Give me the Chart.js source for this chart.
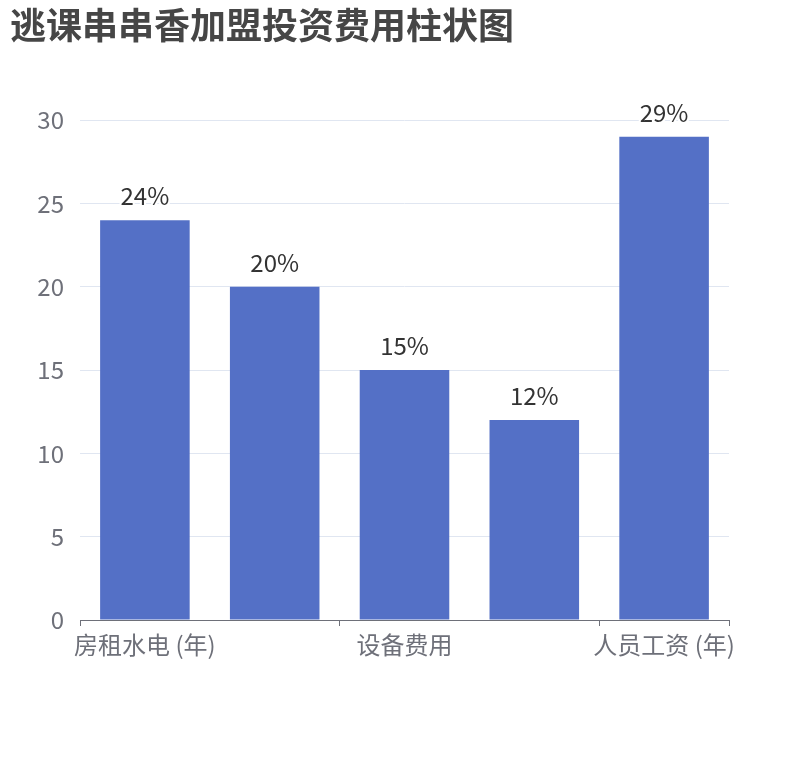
<!DOCTYPE html>
<html>
<head>
<meta charset="utf-8">
<script src="https://cdn.jsdelivr.net/npm/chart.js@4/dist/chart.umd.min.js"></script>
<style>
  html, body { margin: 0; padding: 0; background: #fff; }
  #wrap { width: 810px; height: 760px; position: relative; }
</style>
</head>
<body>
<div id="wrap"><canvas id="chart"></canvas></div>
<script>
// data
const categories = ['房租水电 (年)', '加盟费用', '设备费用', '店面装修', '人员工资 (年)'];
const costs = [24, 20, 15, 12, 29];
const shares = ['24%', '20%', '15%', '12%', '29%'];
const yTicks = [0, 5, 10, 15, 20, 25, 30];

const FONT = '"Noto Sans CJK SC", "Noto Sans", sans-serif';

// percent labels above each bar, white outline like the original
const barLabels = {
  id: 'barLabels',
  afterDatasetsDraw(chart) {
    const ctx = chart.ctx;
    const meta = chart.getDatasetMeta(0);
    ctx.save();
    ctx.font = '24px ' + FONT;
    ctx.textAlign = 'center';
    ctx.textBaseline = 'bottom';
    ctx.lineJoin = 'round';
    meta.data.forEach((bar, i) => {
      ctx.lineWidth = 4;
      ctx.strokeStyle = '#fff';
      ctx.strokeText(shares[i], bar.x, bar.y - 12);
      ctx.fillStyle = '#333';
      ctx.fillText(shares[i], bar.x, bar.y - 12);
    });
    ctx.restore();
  }
};

new Chart(document.getElementById('chart'), {
  type: 'bar',
  data: {
    labels: categories,
    datasets: [{
      data: costs,
      backgroundColor: '#5470C6',
      barPercentage: 0.69,
      categoryPercentage: 1
    }]
  },
  options: {
    responsive: true,
    maintainAspectRatio: false,
    animation: false,
    layout: { padding: { left: 10, right: 81, top: 0, bottom: 0 } },
    plugins: {
      legend: { display: false },
      tooltip: { enabled: false },
      title: {
        display: true,
        text: '逃课串串香加盟投资费用柱状图',
        align: 'start',
        color: '#464646',
        font: { family: FONT, size: 36, weight: 'bold' },
        padding: { top: 4, bottom: 73 }
      }
    },
    scales: {
      x: {
        offset: true,
        grid: {
          offset: true,
          drawOnChartArea: false,
          tickLength: 6,
          color: c => (c.index === undefined || c.index % 2 === 0) ? '#6E7079' : 'rgba(0,0,0,0)'
        },
        border: { color: '#6E7079', width: 1 },
        ticks: {
          autoSkip: false,
          maxRotation: 0,
          color: '#6E7079',
          padding: 4,
          font: { family: FONT, size: 24 },
          callback: (v, i) => i % 2 === 0 ? categories[i] : ''
        },
        afterFit: s => { s.height = 140; }
      },
      y: {
        min: 0,
        max: 30,
        afterBuildTicks: s => { s.ticks = yTicks.map(v => ({ value: v })); },
        grid: { color: '#E0E6F1', drawTicks: false },
        border: { display: false },
        ticks: {
          color: '#6E7079',
          padding: 16,
          font: { family: FONT, size: 24 }
        },
        afterFit: s => { s.width = 70; }
      }
    }
  },
  plugins: [barLabels]
});
</script>
</body>
</html>
